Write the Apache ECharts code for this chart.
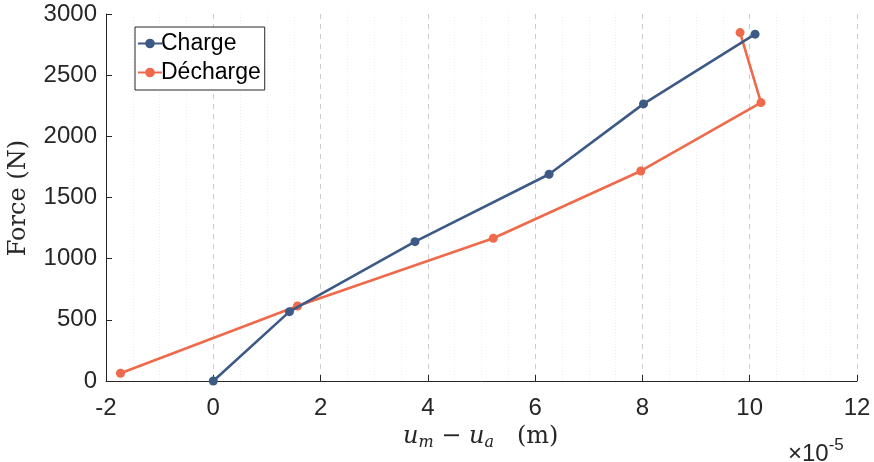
<!DOCTYPE html>
<html><head><meta charset="utf-8">
<script src="https://cdn.jsdelivr.net/npm/echarts@6/dist/echarts.min.js"></script>
<style>html,body{margin:0;padding:0;background:#fff}#c{width:874px;height:462px}</style>
</head><body><div id="c"></div>
<script>
// displacement in units of 1e-5 m, force in N
const chargeX = [0, 1.42, 3.76, 6.26, 8.02, 10.10];
const chargeY = [0, 567, 1139, 1690, 2265, 2835];
const dechargeX = [-1.73, 1.57, 5.22, 7.97, 10.21, 9.82];
const dechargeY = [63, 613, 1167, 1717, 2276, 2848];
const seriesNames = ['Charge', 'Décharge'];
const xTicks = [-2, 0, 2, 4, 6, 8, 10, 12];
const yTicks = [0, 500, 1000, 1500, 2000, 2500, 3000];

const zip = (a, b) => a.map((v, i) => [v, b[i]]);
const axisCol = '#262626';
const chart = echarts.init(document.getElementById('c'), null, {renderer: 'canvas'});
chart.setOption({
  animation: false,
  backgroundColor: '#fff',
  grid: {left: 106, right: 17, top: 14, bottom: 81, containLabel: false},
  xAxis: {
    type: 'value', min: xTicks[0], max: xTicks[xTicks.length - 1], interval: 2,
    axisLine: {show: true, onZero: false, lineStyle: {color: axisCol, width: 1}},
    axisTick: {show: true, inside: true, length: 6, lineStyle: {color: axisCol}},
    axisLabel: {color: axisCol, fontSize: 24, fontFamily: 'Liberation Sans', margin: 15,
                formatter: v => String(v)},
    splitLine: {show: true, lineStyle: {color: '#cccccc', type: [5, 5], width: 1}},
    minorTick: {show: false, splitNumber: 4},
    minorSplitLine: {show: true, lineStyle: {color: '#efefef', type: [1, 2], width: 1}}
  },
  yAxis: {
    type: 'value', min: yTicks[0], max: yTicks[yTicks.length - 1], interval: 500,
    axisLine: {show: true, onZero: false, lineStyle: {color: axisCol, width: 1}},
    axisTick: {show: true, inside: true, length: 6, lineStyle: {color: axisCol}},
    axisLabel: {color: axisCol, fontSize: 24, fontFamily: 'Liberation Sans', margin: 9,
                formatter: v => String(v)},
    splitLine: {show: false}
  },
  legend: {
    left: 135, top: 27, orient: 'vertical',
    backgroundColor: '#fff', borderColor: axisCol, borderWidth: 1, borderRadius: 0,
    padding: [5, 4, 6, 2], itemGap: 6, itemWidth: 24, itemHeight: 12,
    textStyle: {fontSize: 23, fontFamily: 'Liberation Sans', color: '#000', padding: [0, 0, 0, -6]},
    data: seriesNames
  },
  series: [
    {name: seriesNames[0], type: 'line', data: zip(chargeX, chargeY),
     symbol: 'circle', symbolSize: 9, color: '#3d5a86',
     lineStyle: {width: 2.6, color: '#3d5a86'}, itemStyle: {color: '#3d5a86'}, z: 3},
    {name: seriesNames[1], type: 'line', data: zip(dechargeX, dechargeY),
     symbol: 'circle', symbolSize: 9, color: '#ef6a4b',
     lineStyle: {width: 2.6, color: '#ef6a4b'}, itemStyle: {color: '#ef6a4b'}, z: 2}
  ],
  graphic: [
    {type: 'text', left: 7, top: 140, rotation: Math.PI / 2, originX: 0, originY: 0,
     style: {text: 'Force (N)', font: '24px "DejaVu Serif"', fill: '#262626'}},
    {type: 'text', left: 403, top: 425,
     style: {
       text: '{i|u}{s|m}{n| − }{i|u}{s|a}{n|   (m)}',
       rich: {
         i: {font: 'italic 24px "DejaVu Serif"', fill: '#262626'},
         s: {font: 'italic 16px "DejaVu Serif"', fill: '#262626', verticalAlign: 'bottom', padding: [12, 0, 0, 0]},
         n: {font: '24px "DejaVu Serif"', fill: '#262626'}
       }
     }},
    {type: 'text', left: 788, top: 437,
     style: {
       text: '{n|×10}{p|-5}',
       rich: {
         n: {font: '24px "Liberation Sans"', fill: '#262626'},
         p: {font: '17px "Liberation Sans"', fill: '#262626', padding: [0, 0, 17, 0]}
       }
     }}
  ]
});
</script></body></html>
